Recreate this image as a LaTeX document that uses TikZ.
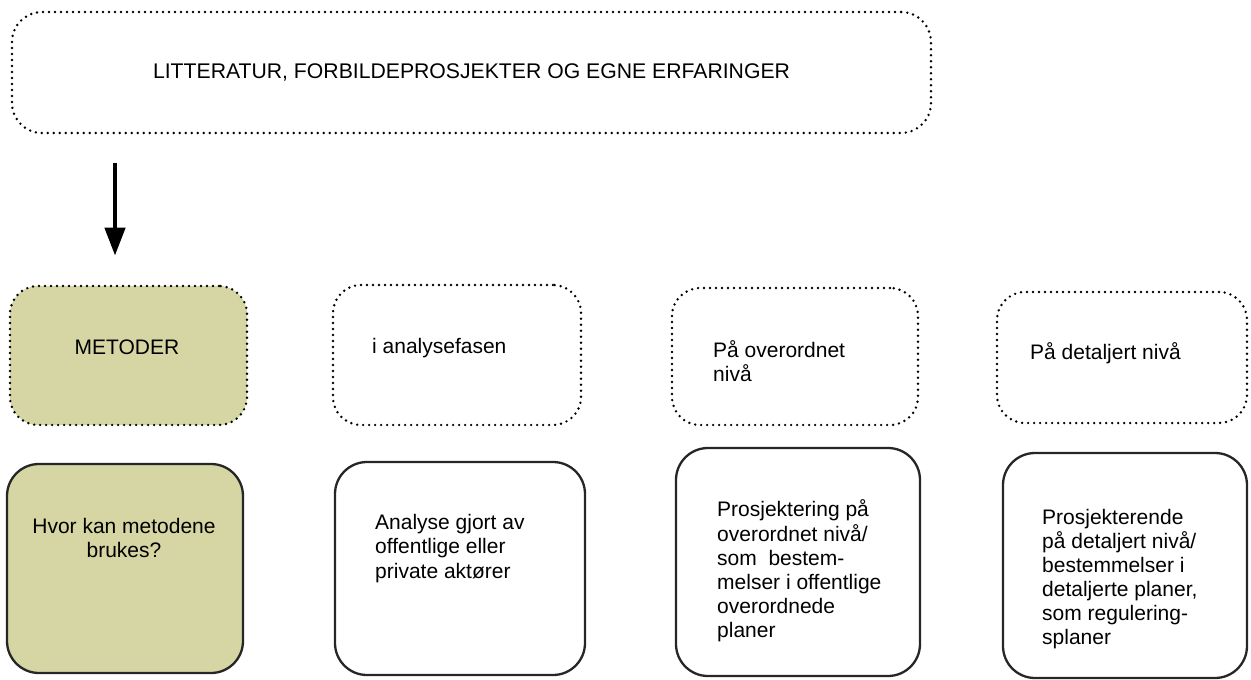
\documentclass[tikz,border=0pt]{standalone}
\usepackage{fontspec}
\setmainfont{Liberation Sans}
\usepackage{xcolor}
\usepackage{tikz}
\usetikzlibrary{positioning, arrows.meta}

\definecolor{methodfill}{HTML}{D6D6A4}

\begin{document}
\begin{tikzpicture}[
    x=1pt, y=-1pt,
    dotbox/.style={rectangle, draw=black, line width=2.7pt, dash pattern=on 0pt off 6pt, line cap=round, rounded corners=28pt},
    solidbox/.style={rectangle, draw=black!85, line width=2.3pt, rounded corners=32pt},
    boxtext/.style={inner sep=0pt, align=left, font=\fontsize{21}{24.15}\selectfont}
]
\useasboundingbox (0,0) rectangle (1251,680);

\node[dotbox, rounded corners=30pt, minimum width=919pt, minimum height=121pt, font=\fontsize{21.2}{24.15}\selectfont] (sources) at (471.5,72.5) {LITTERATUR, FORBILDEPROSJEKTER OG EGNE ERFARINGER};

\node[dotbox, fill=methodfill, minimum width=237pt, minimum height=139pt] (methods) at (128.5,355.5) {};
\node[dotbox, minimum width=248pt, minimum height=140pt] (analysis) at (457,355) {};
\node[dotbox, minimum width=246pt, minimum height=137pt] (overall) at (795,356.5) {};
\node[dotbox, minimum width=250pt, minimum height=131pt] (detailed) at (1122,357.5) {};

\node[solidbox, fill=methodfill, minimum width=236pt, minimum height=209pt] (where) at (125,568.5) {};
\node[solidbox, minimum width=250pt, minimum height=213pt] (analysiswho) at (460,568.5) {};
\node[solidbox, minimum width=244pt, minimum height=228pt] (overallwho) at (798,562) {};
\node[solidbox, minimum width=244pt, minimum height=225pt] (detailedwho) at (1125,565.5) {};

\node[boxtext] (methodsText) at (127,347) {METODER};
\node[boxtext, anchor=west] (analysisText) at (372,348) {i analysefasen};
\node[boxtext, anchor=west] (overallText) at (713,361.5) {På overordnet\\nivå};
\node[boxtext, anchor=west] (detailedText) at (1030,353) {På detaljert nivå};

\node[boxtext, align=center] (whereText) at (124,538) {Hvor kan metodene\\brukes?};
\node[boxtext, anchor=west] (analysiswhoText) at (375,548.5) {Analyse gjort av\\offentlige eller\\private aktører};
\node[boxtext, anchor=west] (overallwhoText) at (717,571) {Prosjektering på\\overordnet nivå/\\som\ \ bestem-\\melser i offentlige\\overordnede\\planer};
\node[boxtext, anchor=west] (detailedwhoText) at (1042,579) {Prosjekterende\\på detaljert nivå/\\bestemmelser i\\detaljerte planer,\\som regulering-\\splaner};

\coordinate (arrowx) at (115,0);
\draw[line width=4.5pt, -{Triangle[width=20pt,length=28pt]}, shorten <=29pt, shorten >=29pt] (sources.south -| arrowx) -- (methods.north -| arrowx);

\end{tikzpicture}
\end{document}
